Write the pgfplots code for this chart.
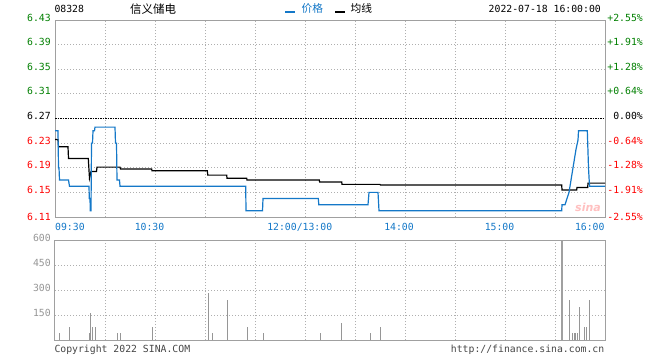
\documentclass[border=0pt]{standalone}
\usepackage{pgfplots}
\pgfplotsset{compat=1.18}
\usepackage{fontspec}
\setmainfont{DejaVu Sans}
\setmonofont{DejaVu Sans Mono}
\newfontfamily\cjk{Noto Sans CJK SC}
\definecolor{pblue}{RGB}{20,120,200}
\definecolor{bordergray}{RGB}{160,160,160}
\definecolor{gridgray}{RGB}{175,175,175}
\definecolor{upgreen}{RGB}{0,128,0}
\definecolor{downred}{RGB}{255,0,0}
\definecolor{volgray}{RGB}{150,150,150}
\definecolor{txtgray}{RGB}{70,70,70}
\newcommand\mono{\fontsize{9.8}{11}\selectfont\ttfamily}
\pgfplotsset{
  chartbase/.style={
    scale only axis, width=550pt, xmin=0, xmax=550,
    axis line style={bordergray, line width=1pt},
    xtick={50,100,...,500}, xticklabels={}, yticklabels={},
    major tick length=0pt,
    grid=major, grid style={gridgray, line width=0.9pt, dash pattern=on 1pt off 2pt},
    clip=false,
  }
}
\tikzset{
  ll/.style={anchor=east, inner sep=0pt, font=\mono},
}
\begin{document}
\begin{tikzpicture}[x=1pt,y=1pt]
\useasboundingbox (0,0) rectangle (660,360);
\fill[white] (0,0) rectangle (660,360);
% ---------------- price chart ----------------
\begin{axis}[chartbase,
  at={(55pt,143pt)}, anchor=south west, height=197pt,
  ymin=6.11, ymax=6.43,
  ytick={6.15,6.19,6.23,6.31,6.35,6.39},
]
\draw[black, line width=1pt, dash pattern=on 1.5pt off 1pt] (axis cs:0,6.27) -- (axis cs:550,6.27);
% average line (x = pixel offset from 09:30)
\addplot[black, line width=1.2pt] coordinates {
(0,6.236) (3,6.236) (3.5,6.224) (13,6.224) (13.5,6.205) (33.3,6.205) (34,6.186) (34.5,6.173)
(35.5,6.180) (36,6.184) (41.5,6.184) (42,6.191) (65,6.191) (65.5,6.188) (96.7,6.188) (97,6.185)
(152.3,6.185) (152.8,6.178) (171.7,6.178) (172,6.173) (191.7,6.173) (192,6.170) (264.3,6.170)
(264.6,6.167) (286.7,6.167) (287,6.163) (325,6.163) (325.5,6.162) (506.7,6.162) (507,6.154)
(521.7,6.154) (522,6.158) (532.7,6.158) (533,6.165) (550,6.165)
};
% price line
\addplot[pblue, line width=1.2pt] coordinates {
(0,6.25) (3,6.25) (3.5,6.19) (4,6.19) (4.5,6.17) (13.5,6.17) (14.5,6.16) (34,6.16) (34.3,6.14)
(35,6.14) (35.3,6.12) (36,6.12) (36.5,6.23) (37.5,6.23) (38,6.25) (39.5,6.25) (40,6.256)
(60,6.256) (60.5,6.23) (61.5,6.23) (62,6.17) (64.5,6.17) (65,6.16) (190.7,6.16) (191,6.12)
(207.5,6.12) (208,6.14) (263.3,6.14) (263.8,6.13) (313,6.13) (314,6.15) (323,6.15) (324,6.12)
(506.7,6.12) (507,6.13) (510,6.13) (512,6.14) (514,6.15) (515,6.16) (517,6.18) (519,6.20)
(521,6.22) (523,6.235) (523.5,6.25) (532.3,6.25) (533.5,6.19) (534.5,6.16) (550,6.16)
};
% left labels
\node[ll, text=upgreen] at ([xshift=-4pt,yshift=2.5pt]axis cs:0,6.43) {6.43};
\node[ll, text=upgreen] at ([xshift=-4pt,yshift=2.5pt]axis cs:0,6.39) {6.39};
\node[ll, text=upgreen] at ([xshift=-4pt,yshift=2.5pt]axis cs:0,6.35) {6.35};
\node[ll, text=upgreen] at ([xshift=-4pt,yshift=2.5pt]axis cs:0,6.31) {6.31};
\node[ll, text=black] at ([xshift=-4pt,yshift=2.5pt]axis cs:0,6.27) {6.27};
\node[ll, text=downred] at ([xshift=-4pt,yshift=2.5pt]axis cs:0,6.23) {6.23};
\node[ll, text=downred] at ([xshift=-4pt,yshift=2.5pt]axis cs:0,6.19) {6.19};
\node[ll, text=downred] at ([xshift=-4pt,yshift=2.5pt]axis cs:0,6.15) {6.15};
\node[ll, text=downred] at ([xshift=-4pt,yshift=0pt]axis cs:0,6.11) {6.11};
% right labels
\node[ll, text=upgreen] at ([xshift=38pt,yshift=2.5pt]axis cs:550,6.43) {+2.55\%};
\node[ll, text=upgreen] at ([xshift=38pt,yshift=2.5pt]axis cs:550,6.39) {+1.91\%};
\node[ll, text=upgreen] at ([xshift=38pt,yshift=2.5pt]axis cs:550,6.35) {+1.28\%};
\node[ll, text=upgreen] at ([xshift=38pt,yshift=2.5pt]axis cs:550,6.31) {+0.64\%};
\node[ll, text=black] at ([xshift=38pt,yshift=2.5pt]axis cs:550,6.27) {0.00\%};
\node[ll, text=downred] at ([xshift=38pt,yshift=2.5pt]axis cs:550,6.23) {-0.64\%};
\node[ll, text=downred] at ([xshift=38pt,yshift=2.5pt]axis cs:550,6.19) {-1.28\%};
\node[ll, text=downred] at ([xshift=38pt,yshift=2.5pt]axis cs:550,6.15) {-1.91\%};
\node[ll, text=downred] at ([xshift=38pt,yshift=0pt]axis cs:550,6.11) {-2.55\%};
% time labels
\node[anchor=west, inner sep=0pt, text=pblue, font=\mono] at ([yshift=-10.3pt]axis cs:0,6.11) {09:30};
\node[anchor=center, inner sep=0pt, text=pblue, font=\mono] at ([yshift=-10.3pt]axis cs:94.5,6.11) {10:30};
\node[anchor=center, inner sep=0pt, text=pblue, font=\mono] at ([yshift=-10.3pt]axis cs:244.7,6.11) {12:00/13:00};
\node[anchor=center, inner sep=0pt, text=pblue, font=\mono] at ([yshift=-10.3pt]axis cs:344,6.11) {14:00};
\node[anchor=center, inner sep=0pt, text=pblue, font=\mono] at ([yshift=-10.3pt]axis cs:444.5,6.11) {15:00};
\node[anchor=east, inner sep=0pt, text=pblue, font=\mono] at ([yshift=-10.3pt]axis cs:549.7,6.11) {16:00};
% watermark
\node[inner sep=0pt, text=red!35!white, font=\bfseries\itshape\fontsize{11}{11}\selectfont, opacity=0.7] at (axis cs:533,6.125) {sina};
\end{axis}
% ---------------- volume chart ----------------
\begin{axis}[chartbase,
  at={(55pt,20pt)}, anchor=south west, height=100pt,
  ymin=0, ymax=600,
  ytick={150,300,450},
]
\addplot[ycomb, volgray, line width=1pt] coordinates {
(4.3,40) (14.3,80) (34.3,40) (35.3,160) (37.3,80) (40.7,80) (62.3,40) (65,40) (97.3,80)
(153.3,280) (157.3,40) (172.3,240) (192.3,80) (208.3,40) (265.3,40) (286.7,100) (315.3,40)
(325.3,80) (514.3,240) (517.3,40) (519,40) (520.7,40) (522.3,40) (524.3,200) (529.3,80)
(531,80) (534.3,240)
};
\addplot[ycomb, bordergray, line width=1.2pt] coordinates {(507,600)};
\node[ll, text=volgray] at ([xshift=-4pt,yshift=2pt]axis cs:0,600) {600};
\node[ll, text=volgray] at ([xshift=-4pt,yshift=2.5pt]axis cs:0,450) {450};
\node[ll, text=volgray] at ([xshift=-4pt,yshift=2pt]axis cs:0,300) {300};
\node[ll, text=volgray] at ([xshift=-4pt,yshift=2pt]axis cs:0,150) {150};
\end{axis}
% ---------------- header / footer ----------------
\node[anchor=west, inner sep=0pt, font=\mono] at (54.3,351.2) {08328};
\node[anchor=west, inner sep=0pt, font=\cjk\fontsize{11.5}{12}\selectfont] at (130,351.3) {信义储电};
\draw[pblue, line width=2pt] (285,348.3) -- (295,348.3);
\node[anchor=west, inner sep=0pt, text=pblue, font=\cjk\fontsize{10.7}{12}\selectfont] at (301.5,351.2) {价格};
\draw[black, line width=2pt] (335,348.3) -- (345,348.3);
\node[anchor=west, inner sep=0pt, font=\cjk\fontsize{10.7}{12}\selectfont] at (350.5,351.2) {均线};
\node[anchor=east, inner sep=0pt, font=\mono] at (601,351.2) {2022-07-18 16:00:00};
\node[anchor=west, inner sep=0pt, text=txtgray, font=\mono] at (54.3,10.5) {Copyright 2022 SINA.COM};
\node[anchor=east, inner sep=0pt, text=txtgray, font=\mono] at (604.5,10.5) {http://finance.sina.com.cn};
\end{tikzpicture}
\end{document}
